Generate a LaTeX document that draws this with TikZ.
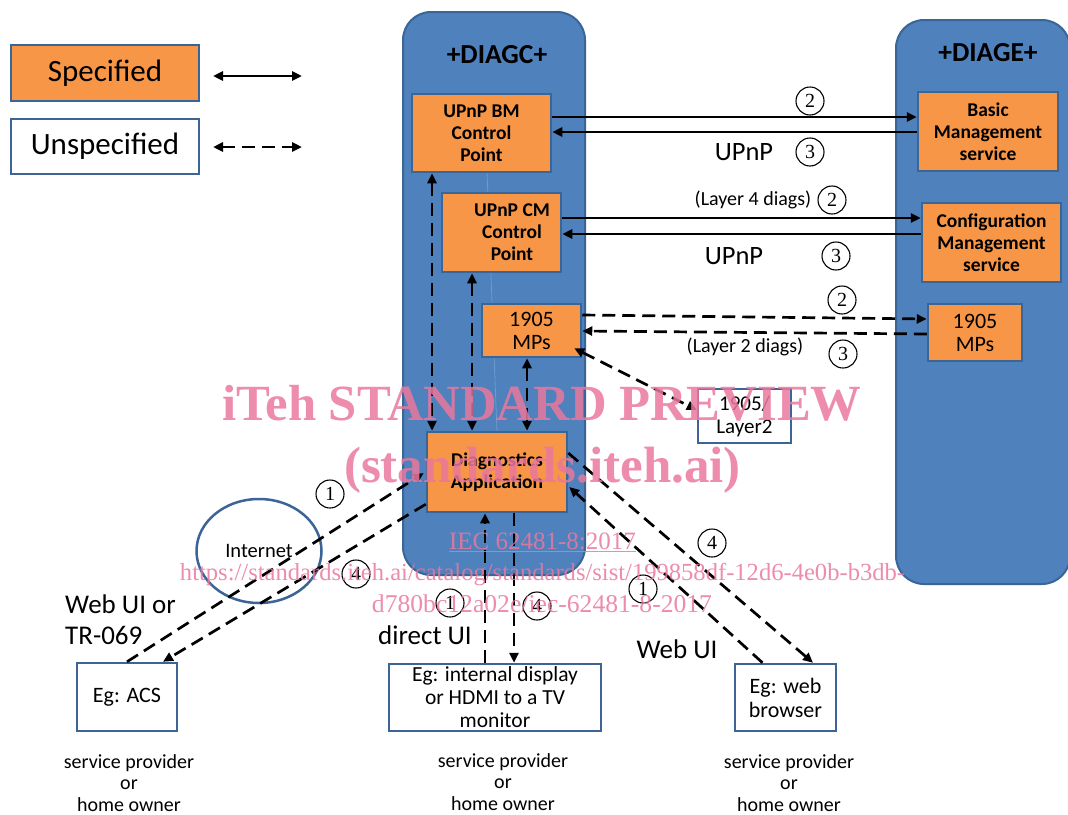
\documentclass[tikz,border=0pt]{standalone}
\usepackage{fontspec}
\usepackage{graphicx}
\setmainfont{Carlito}
\newfontfamily\serifwm{Liberation Serif}
\usetikzlibrary{arrows.meta,shapes.geometric,calc}

\definecolor{orng}{HTML}{F79646}
\definecolor{cblue}{HTML}{4F81BD}
\definecolor{cedge}{HTML}{3A6597}
\definecolor{bedge}{HTML}{3C6497}
\definecolor{cfaint}{HTML}{6E9AD0}
\definecolor{wmpink}{RGB}{234,120,158}

\newcommand{\fs}[2]{\fontsize{#1}{#2}\selectfont}

\begin{document}
\begin{tikzpicture}[x=1pt,y=-1pt,
  >={Triangle[length=10pt,width=9pt]},
  container/.style={draw=cedge,line width=2pt,fill=cblue,rounded corners=28pt,inner sep=0pt},
  specbox/.style={draw=cedge,line width=2.5pt,fill=orng,inner sep=0pt,align=center},
  unspecbox/.style={draw=bedge,line width=2.5pt,fill=white,inner sep=0pt,align=center},
  boldtxt/.style={font=\fs{19.5}{22}\bfseries},
  link/.style={line width=2.7pt},
  dlink/.style={line width=2.7pt,dash pattern=on 13pt off 7pt},
  num/.style={circle,draw,line width=1.1pt,minimum size=28pt,inner sep=0pt,font=\serifwm\fs{20}{20}},
  lbl/.style={font=\fs{27}{31},align=center,inner sep=0pt},
  owner/.style={font=\fs{20}{21.5},align=center,inner sep=0pt},
  wm/.style={text=wmpink,text opacity=0.85,inner sep=0pt,anchor=base},
]
\useasboundingbox (0,0) rectangle (1068,814);
\fill[white] (0,0) rectangle (1068,814);

% legend
\node[specbox,minimum width=188pt,minimum height=56pt,font=\fs{31}{32}] (legspec) at (105,73) {Specified};
\node[unspecbox,minimum width=188pt,minimum height=55pt,font=\fs{31}{32}] (legunspec) at (105,146.5) {Unspecified};
\coordinate (lsa) at (213,76);  \coordinate (lsb) at (302,76);
\coordinate (lda) at (213,147); \coordinate (ldb) at (302,147);
\draw[link,<->] (lsa) -- (lsb);
\draw[dlink,<->] (lda) -- (ldb);

% device containers
\node[container,minimum width=182pt,minimum height=563pt] (diagc) at (494,293.5) {};
\node[container,minimum width=174pt,minimum height=564pt] (diage) at (983,302) {};
\node[font=\fs{27.5}{28}\bfseries] (tc) at (497,55) {+DIAGC+};
\node[font=\fs{27.5}{28}\bfseries] (te) at (988,53) {+DIAGE+};

% thin divider inside the controller
\coordinate (fa) at (487,172);
\coordinate (fb) at (497,432);
\draw[cfaint,line width=0.8pt] (fa) -- (fb);

% controller blocks
\node[specbox,boldtxt,minimum width=139pt,minimum height=78pt] (bmcp) at (481.5,133) {UPnP BM\\Control\\Point};
\node[specbox,minimum width=119pt,minimum height=79pt] (cmcp) at (501.5,232.5) {};
\node[boldtxt,align=center,inner sep=0pt] (cmtxt) at (512,232) {UPnP CM\\Control\\Point};
\node[specbox,font=\fs{22}{23},minimum width=99pt,minimum height=53pt] (mps) at (531.5,330.5) {1905\\MPs};
\node[specbox,boldtxt,minimum width=140pt,minimum height=80pt] (diag) at (497,472) {Diagnostics\\Application};

% element blocks
\node[specbox,boldtxt,minimum width=140pt,minimum height=79pt] (bms) at (988,131.5) {Basic\\Management\\service};
\node[specbox,boldtxt,minimum width=139pt,minimum height=79pt] (cms) at (991.5,242.5) {Configuration\\Management\\service};
\node[specbox,font=\fs{22}{23},minimum width=94pt,minimum height=57pt] (mpse) at (975,332.5) {1905\\MPs};

% external parties
\node[unspecbox,font=\fs{21}{23},minimum width=93pt,minimum height=54pt] (ltwo) at (744.5,416) {1905/\\Layer2};
\node[unspecbox,font=\fs{22}{24},minimum width=100pt,minimum height=68pt] (acs) at (127,697) {Eg: ACS};
\node[unspecbox,font=\fs{21.5}{23},minimum width=212pt,minimum height=67pt] (disp) at (495,697.5) {Eg: internal display\\or HDMI to a TV\\monitor};
\node[unspecbox,font=\fs{22}{24},minimum width=101pt,minimum height=67pt] (web) at (785.5,697.5) {Eg: web\\browser};
\node[draw=bedge,line width=2.5pt,ellipse,minimum width=125pt,minimum height=104pt,inner sep=0pt,font=\fs{20.5}{20}] (inet) at (259,551) {Internet};

% UPnP links
\draw[link,->] (bmcp.east |- 0,117) -- (bms.west |- 0,117);
\draw[link,->] (bms.west |- 0,132) -- (bmcp.east |- 0,132);
\draw[link,->] (cmcp.east |- 0,218) -- (cms.west |- 0,218);
\draw[link,->] (cms.west |- 0,234) -- (cmcp.east |- 0,234);
\draw[dlink,->] (mps.east |- 0,315) -- (mpse.west |- 0,319);
\draw[dlink,->] (mpse.west |- 0,334) -- (mps.east |- 0,331);
\draw[dlink,<->] ($(mps.south east)+(-8,-10)$) -- ($(ltwo.west)+(0,-6)$);

% internal links
\draw[dlink,<->] (bmcp.south -| 432,0) -- (diag.north -| 432,0);
\draw[dlink,<->] (cmcp.south -| 472,0) -- (diag.north -| 472,0);
\draw[dlink,<->] (mps.south -| 527,0) -- (diag.north -| 527,0);

% user interface links
\draw[dlink,->] (acs.north) -- ($(diag.west)+(-2,1)$);
\draw[dlink,->] ($(diag.south west)+(0,-9)$) -- ($(acs.north)+(36,0)$);
\draw[dlink,->] (disp.north -| 485,0) -- (diag.south -| 485,0);
\draw[dlink,->] (diag.south -| 514,0) -- (disp.north -| 514,0);
\draw[dlink,->] ($(web.north)+(-23,0)$) -- ($(diag.east)+(1,15)$);
\draw[dlink,->] ($(diag.east)+(0,-19)$) -- ($(web.north)+(27.5,0)$);

% step numbers
\node[num] (s2a) at (810,101) {2};
\node[num] (s3a) at (810,152) {3};
\node[num] (s2b) at (832,200) {2};
\node[num] (s3b) at (836,256) {3};
\node[num] (s2c) at (842,300) {2};
\node[num] (s3c) at (843,354) {3};
\node[num] (s1a) at (330,494) {1};
\node[num] (s4a) at (356,574) {4};
\node[num] (s1b) at (450,603) {1};
\node[num] (s4b) at (537,606) {4};
\node[num] (s4c) at (712,543) {4};
\node[num] (s1c) at (643,589) {1};

% link labels
\node[font=\fs{26.5}{27}] (up1) at (744,152) {UPnP};
\node[font=\fs{26.5}{27}] (up2) at (734,256) {UPnP};
\node[font=\fs{20}{20}] (l4) at (753,200) {(Layer 4 diags)};
\node[font=\fs{20}{20}] (l2) at (745,347) {(Layer 2 diags)};
\node[lbl,align=left,anchor=west] (wtr) at (65,619.5) {Web UI or\\TR-069};
\node[lbl] (dui) at (425,635) {direct UI};
\node[lbl] (wui) at (677,649) {Web UI};
\node[owner] (o1) at (129,783) {service provider\\or\\home owner};
\node[owner] (o2) at (503,782) {service provider\\or\\home owner};
\node[owner] (o3) at (789,783) {service provider\\or\\home owner};

% stamp
\node[wm,font=\serifwm\bfseries\fs{50.7}{52}] (w1) at (542,420) {iTeh STANDARD PREVIEW};
\node[wm,font=\serifwm\bfseries\fs{51}{52}] (w2) at (542.5,482) {(standards.iteh.ai)};
\node[wm,font=\serifwm\fs{25}{26}] (w3) at (542.5,549) {\underline{IEC 62481-8:2017}};
\node[wm] (w4) at (542.5,580) {\resizebox{725pt}{!}{\serifwm\fs{24}{24}https://standards.iteh.ai/catalog/standards/sist/199858df-12d6-4e0b-b3db-}};
\node[wm] (w5) at (542,612) {\resizebox{340pt}{!}{\serifwm\fs{24}{24}d780bc12a02e/iec-62481-8-2017}};
\end{tikzpicture}
\end{document}
